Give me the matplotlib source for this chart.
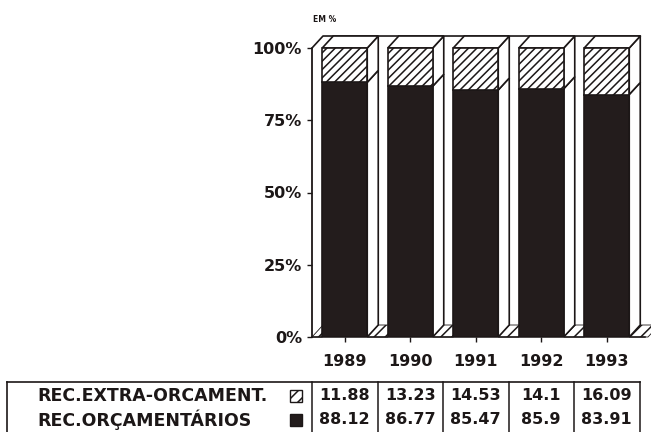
import matplotlib
matplotlib.use("Agg")
import matplotlib.pyplot as plt
from matplotlib.patches import Polygon, Rectangle
from matplotlib.lines import Line2D
from matplotlib import transforms

# ---- data -------------------------------------------------------------
years = ["1989", "1990", "1991", "1992", "1993"]
rec_extra_orcament = [11.88, 13.23, 14.53, 14.1, 16.09]
rec_orcamentarios = [88.12, 86.77, 85.47, 85.9, 83.91]
row_labels = ["REC.EXTRA-ORCAMENT.", "REC.ORÇAMENTÁRIOS"]
y_ticks = [0, 25, 50, 75, 100]
y_tick_labels = ["0%", "25%", "50%", "75%", "100%"]
unit_label = "EM %"

# ---- styling ----------------------------------------------------------
plt.rcParams["font.family"] = ["DejaVu Sans"]
plt.rcParams["font.weight"] = "bold"
plt.rcParams["hatch.linewidth"] = 1.1
ink = "#1c1717"
dark = "#231c1c"
FS = 11.5
HATCH = "////"

W, H = 651, 432
fig = plt.figure(figsize=(W / 100, H / 100), dpi=100)
fig.patch.set_facecolor("white")

# plot area in pixels
x0_px, slot_px = 312, 65.5
y0_px, pct_px = 337, 2.89
xmin, xmax = -0.5, 4.58
ymax = 105
ax = fig.add_axes([x0_px / W, (H - y0_px) / H,
                   (xmax - xmin) * slot_px / W, ymax * pct_px / H])
ax.set_xlim(xmin, xmax)
ax.set_ylim(0, ymax)
ax.patch.set_alpha(0)

bw = 0.687      # bar front width (slot units)
dx = 0.168      # depth offset along x
dy = 4.15       # depth offset along y (percent units)
lw = 1.2

# back wall top edge
ax.add_line(Line2D([xmin, xmin + dx, 4 + bw / 2 + dx],
                   [100, 100 + dy, 100 + dy], color=ink, lw=lw, zorder=0.5))

# floor strips between columns
n = len(years)
for k in range(-1, n):
    xr = xmin if k < 0 else k + bw / 2
    xl_next = (k + 1 - bw / 2) if k < n - 1 else xmax + 0.05
    floor = Polygon([(xr, 0), (xl_next, 0), (xl_next + dx, dy), (xr + dx, dy)],
                    closed=True, facecolor="white", edgecolor=ink,
                    hatch="///", lw=0.6, zorder=1, clip_on=False)
    ax.add_patch(floor)

# 3D stacked columns
for i in range(n):
    xl, xr = i - bw / 2, i + bw / 2
    lo = rec_orcamentarios[i]
    hi = lo + rec_extra_orcament[i]
    # right side faces
    ax.add_patch(Polygon([(xr, 0), (xr + dx, dy), (xr + dx, lo + dy), (xr, lo)],
                         closed=True, facecolor="white", edgecolor=ink, lw=lw, zorder=2))
    ax.add_patch(Polygon([(xr, lo), (xr + dx, lo + dy), (xr + dx, hi + dy), (xr, hi)],
                         closed=True, facecolor="white", edgecolor=ink, lw=lw, zorder=2))
    # top face
    ax.add_patch(Polygon([(xl, hi), (xl + dx, hi + dy), (xr + dx, hi + dy), (xr, hi)],
                         closed=True, facecolor="white", edgecolor=ink, lw=lw, zorder=2))
    # front faces
    ax.add_patch(Rectangle((xl, 0), bw, lo, facecolor=dark, edgecolor=ink,
                           lw=lw, zorder=3))
    ax.add_patch(Rectangle((xl, lo), bw, rec_extra_orcament[i], facecolor="white",
                           edgecolor=ink, hatch=HATCH, lw=lw, zorder=3))

# axes
for side in ("top", "right"):
    ax.spines[side].set_visible(False)
ax.spines["left"].set_bounds(0, 100)
ax.spines["left"].set_linewidth(1.3)
ax.spines["left"].set_color(ink)
ax.spines["bottom"].set_bounds(xmin, xmax)
ax.spines["bottom"].set_linewidth(1.1)
ax.spines["bottom"].set_color(ink)
ax.spines["left"].set_zorder(4)

ax.set_yticks(y_ticks, y_tick_labels)
ax.set_xticks(range(n), years)
ax.tick_params(axis="y", length=3.6, width=1.0, pad=3.6, colors=ink,
               labelsize=FS)
ax.tick_params(axis="x", length=3.6, width=1.0, pad=9, colors=ink,
               labelsize=FS)
for lab in ax.get_xticklabels() + ax.get_yticklabels():
    lab.set_fontweight("bold")

# unit label
fig.text(313 / W, (H - 19) / H, unit_label, fontsize=5.5, fontweight="bold",
         color=ink, ha="left", va="center")

# ---- data table below the chart ----------------------------------------
def fy(p):
    return (H - p) / H


def fx(p):
    return p / W


bt = transforms.blended_transform_factory(ax.transData, fig.transFigure)
table_top = 382
fig.add_artist(Line2D([fx(7), fx(640)], [fy(table_top)] * 2,
                      transform=fig.transFigure, color=ink, lw=1.2))
fig.add_artist(Line2D([fx(7), fx(7)], [fy(table_top), fy(432)],
                      transform=fig.transFigure, color=ink, lw=1.2))
for k in range(n + 1):
    fig.add_artist(Line2D([k - 0.5, k - 0.5], [fy(table_top), fy(432)],
                          transform=bt, color=ink, lw=1.1))

row_y = [396, 420]
row_values = [rec_extra_orcament, rec_orcamentarios]
row_hatch = ["///", None]
row_face = ["white", dark]
for r in range(2):
    fig.text(fx(37), fy(row_y[r]), row_labels[r], fontsize=12.5,
             fontweight="bold", color=ink, ha="left", va="center")
    fig.add_artist(Rectangle((fx(290), fy(row_y[r] + 6)), 12 / W, 12 / H,
                             transform=fig.transFigure, facecolor=row_face[r],
                             edgecolor=ink, hatch=row_hatch[r], lw=1.0))
    for i in range(n):
        fig.text(i, fy(row_y[r]), str(row_values[r][i]), transform=bt,
                 fontsize=FS, fontweight="bold", color=ink,
                 ha="center", va="center")

fig.savefig("out.png", dpi=100, facecolor="white")
